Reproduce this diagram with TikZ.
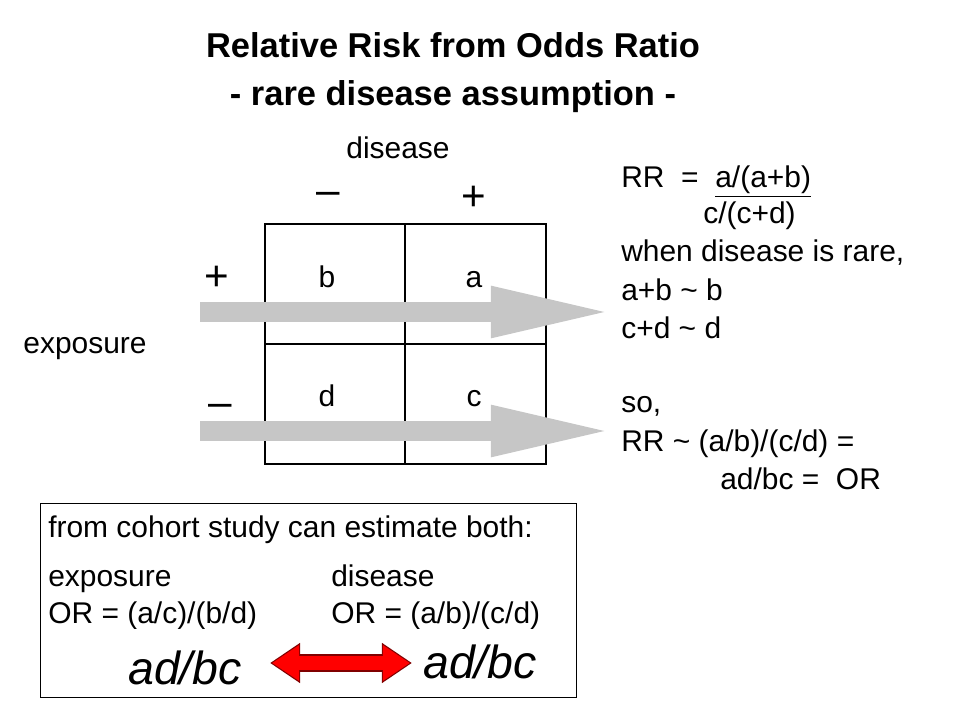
\documentclass[tikz,border=0pt]{standalone}
\usepackage{fontspec}
\setmainfont{Liberation Sans}
\usetikzlibrary{arrows.meta}
\begin{document}
\begin{tikzpicture}[x=0.025cm,y=-0.025cm,
        txt/.style={font=\fontsize{21.3}{24}\selectfont, inner sep=0pt, text height=0.72em, text depth=0.2em},
        ltxt/.style={txt, anchor=west},
        sign/.style={font=\fontsize{30}{30}\selectfont, inner sep=0pt},
        grid/.style={line width=1.6pt},
        flow/.style={-{Triangle[length=3.1cm, width=1.15cm]}, line width=0.5cm, draw=gray!45},
        big/.style={font=\fontsize{33}{36}\selectfont\itshape, inner sep=0pt}
    ]
    \useasboundingbox (0,0) rectangle (960,720);

    % title
    \node[font=\fontsize{24.5}{26}\selectfont\bfseries, inner sep=0pt] (title1) at (453,45) {Relative Risk from Odds Ratio};
    \node[font=\fontsize{24.5}{26}\selectfont\bfseries, inner sep=0pt] (title2) at (453,97) {- rare disease assumption -};

    % table
    \node[txt] (dis) at (398,155) {disease};
    \node[sign] (dminus) at (328,198) {--};
    \node[sign] (dplus) at (474,198) {+};
    \node[sign] (eplus) at (217,278) {+};
    \node[sign] (eminus) at (220,410) {--};
    \node[txt] (expo) at (85,350) {exposure};

    \coordinate (s1) at (200,312);
    \coordinate (e1) at (615,312);
    \coordinate (s2) at (200,431);
    \coordinate (e2) at (615,431);

    \draw[grid] (265,224) rectangle (546,464);
    \draw[grid] (405,224) -- (405,464);
    \draw[grid] (265,344) -- (546,344);
    \draw[flow] (s1) -- (e1);
    \draw[flow] (s2) -- (e2);

    \node[txt] (b) at (327,284) {b};
    \node[txt] (a) at (474,284) {a};
    \node[txt] (d) at (327,403) {d};
    \node[txt] (c) at (474,403) {c};

    % right hand text
    \node[ltxt] (rr) at (621,184) {RR\ \ =\ \ \underline{a/(a+b)}};
    \node[ltxt] (den) at (703,220) {c/(c+d)};
    \node[ltxt] (rare) at (621,258) {when disease is rare,};
    \node[ltxt] (ab) at (621,297) {a+b \textasciitilde\ b};
    \node[ltxt] (cd) at (621,335) {c+d \textasciitilde\ d};
    \node[ltxt] (so) at (621,409) {so,};
    \node[ltxt] (rr2) at (621,448) {RR \textasciitilde\ (a/b)/(c/d) =};
    \node[ltxt] (orr) at (720,486) {ad/bc =\ \ OR};

    % cohort box
    \draw[line width=0.6pt] (40,503) rectangle (576,697);
    \node[ltxt] (cohort) at (48,534) {from cohort study can estimate both:};
    \node[ltxt] (ex) at (48,583) {exposure};
    \node[ltxt] (dz) at (331,583) {disease};
    \node[ltxt] (orx) at (48,620) {OR = (a/c)/(b/d)};
    \node[ltxt] (ord) at (331,620) {OR = (a/b)/(c/d)};
    \fill[white] (45,629) rectangle (570,645);
    \node[big] (adbc1) at (185,668) {ad/bc};
    \node[big] (adbc2) at (480,662) {ad/bc};
    \coordinate (r1) at (270,663);
    \coordinate (r2) at (412,663);
    \draw[{Triangle[length=0.75cm, width=0.95cm]}-{Triangle[length=0.75cm, width=0.95cm]}, line width=0.45cm, red!50!black] (r1) -- (r2);
    \draw[{Triangle[length=0.68cm, width=0.85cm]}-{Triangle[length=0.68cm, width=0.85cm]}, line width=0.36cm, red] ([xshift=0.05cm]r1) -- ([xshift=-0.05cm]r2);
\end{tikzpicture}
\end{document}
